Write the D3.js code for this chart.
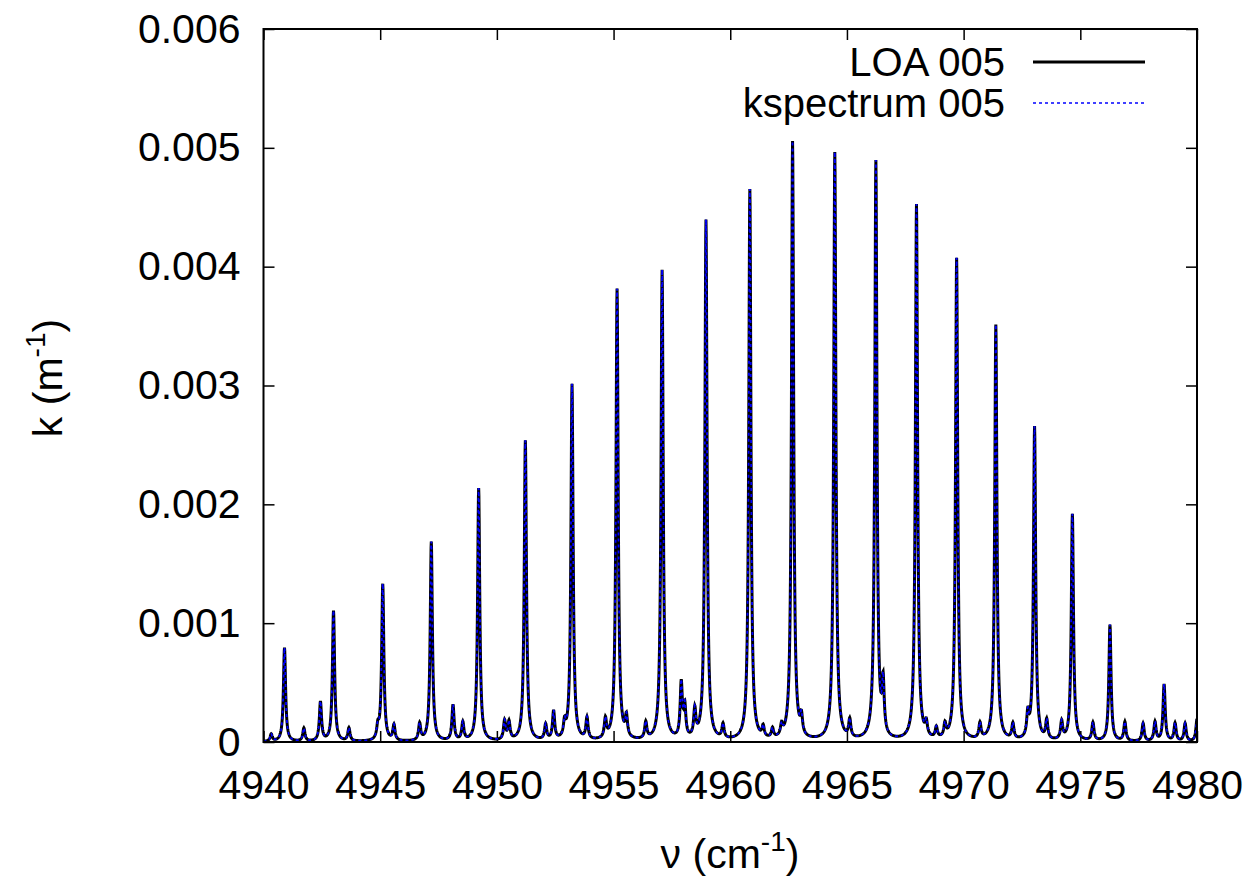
<!DOCTYPE html>
<html>
<head>
<meta charset="utf-8">
<script src="https://cdn.jsdelivr.net/npm/d3@7"></script>
<style>
  body { margin: 0; background: #fff; }
  text { font-family: "Liberation Sans", Arial, sans-serif; fill: #000; }
</style>
</head>
<body>
<svg id="chart" width="1255" height="877"></svg>
<script>
// strong lines of the band (cm-1) and their peak k (m-1)
var bandCenters = [4940.90, 4943.00, 4945.11, 4947.19, 4949.22, 4951.22, 4953.22, 4955.15, 4957.08, 4958.96,
  4960.84, 4962.67, 4964.48, 4966.24, 4967.98, 4969.70, 4971.38, 4973.04, 4974.66, 4976.27, 4978.59]
var bandPeaks = [0.00079, 0.00110, 0.00132, 0.00168, 0.00213, 0.00253, 0.00300, 0.00380, 0.00396, 0.00438,
  0.00464, 0.00504, 0.00495, 0.00487, 0.00451, 0.00406, 0.00350, 0.00264, 0.00191, 0.00098, 0.00048]

// weak lines in between
var weakCenters = [4940.33, 4941.73, 4942.44, 4943.66, 4944.90, 4945.59, 4946.69, 4948.12, 4948.54, 4950.33,
  4950.52, 4952.09, 4952.43, 4952.90, 4953.86, 4954.65, 4955.55, 4956.38, 4957.90, 4958.05,
  4958.48, 4959.69, 4961.41, 4961.81, 4962.20, 4963.05, 4965.12, 4966.55, 4968.40, 4968.83,
  4969.20, 4970.70, 4972.11, 4972.75, 4973.56, 4974.20, 4975.54, 4976.91, 4977.69, 4978.20,
  4979.06, 4979.49, 4980.00]
var weakPeaks = [0.00006, 0.00011, 0.00033, 0.00011, 0.00010, 0.00013, 0.00014, 0.00030, 0.00015, 0.00016,
  0.00015, 0.00013, 0.00024, 0.00012, 0.00018, 0.00016, 0.00017, 0.00014, 0.00046, 0.00026,
  0.00023, 0.00012, 0.00009, 0.00008, 0.00009, 0.00015, 0.00015, 0.00043, 0.00011, 0.00009,
  0.00011, 0.00013, 0.00013, 0.00019, 0.00016, 0.00015, 0.00015, 0.00016, 0.00015, 0.00016,
  0.00015, 0.00015, 0.00019]

var halfWidth = 0.055

var xTicks = [4940, 4945, 4950, 4955, 4960, 4965, 4970, 4975, 4980]
var yTicks = [0, 0.001, 0.002, 0.003, 0.004, 0.005, 0.006]
var seriesNames = ['LOA 005', 'kspectrum 005']

const margin = {left: 263.5, right: 1197, top: 29, bottom: 742}
const fontSize = 41

var svg = d3.select('#chart')

var x = d3.scaleLinear().domain([4940, 4980]).range([margin.left, margin.right])
var y = d3.scaleLinear().domain([0, 0.006]).range([margin.bottom, margin.top])

var centers = bandCenters.concat(weakCenters)
var peaks = bandPeaks.concat(weakPeaks)

var absorption = function (nu) {
  var s = 0
  centers.forEach((c, i) => {
    var u = (nu - c) / halfWidth
    s += peaks[i] / (1 + u * u)
  })
  return s
}

var grid = d3.range(4940, 4980.0001, 0.01).concat(centers.filter(c => c >= 4940 && c <= 4980))
grid.sort((a, b) => a - b)
var spectrum = grid.map(nu => [nu, absorption(nu)])

var line = d3.line()
  .x(d => x(d[0]))
  .y(d => y(d[1]))

svg.append('defs').append('clipPath').attr('id', 'clip')
  .append('rect')
  .attr('x', margin.left).attr('y', margin.top)
  .attr('width', margin.right - margin.left).attr('height', margin.bottom - margin.top)

// axes, ticks pointing inward on all four sides
var axisB = svg.append('g')
  .attr('transform', 'translate(0,' + margin.bottom + ')')
  .call(d3.axisBottom(x).tickValues(xTicks).tickSize(-11).tickPadding(28).tickFormat(d3.format('d')))
var axisT = svg.append('g')
  .attr('transform', 'translate(0,' + margin.top + ')')
  .call(d3.axisTop(x).tickValues(xTicks).tickSize(-11).tickFormat(''))
var axisL = svg.append('g')
  .attr('transform', 'translate(' + margin.left + ',0)')
  .call(d3.axisLeft(y).tickValues(yTicks).tickSize(-11).tickPadding(23)
    .tickFormat(d => d === 0 ? '0' : d3.format('.3f')(d)))
var axisR = svg.append('g')
  .attr('transform', 'translate(' + margin.right + ',0)')
  .call(d3.axisRight(y).tickValues(yTicks).tickSize(-11).tickFormat(''))

;[axisB, axisT, axisL, axisR].forEach(g => {
  g.select('.domain').remove()
  g.selectAll('.tick line').attr('stroke', '#000').attr('stroke-width', 1.5)
  g.selectAll('text').attr('font-size', fontSize).attr('font-family', '"Liberation Sans", Arial, sans-serif').attr('fill', '#000')
})

var plot = svg.append('g').attr('clip-path', 'url(#clip)')

plot.append('path')
  .datum(spectrum)
  .attr('d', line)
  .attr('fill', 'none')
  .attr('stroke', '#000')
  .attr('stroke-width', 3)

plot.append('path')
  .datum(spectrum)
  .attr('d', line)
  .attr('fill', 'none')
  .attr('stroke', '#0000ff')
  .attr('stroke-width', 1.8)
  .attr('stroke-dasharray', '3,3')

svg.append('rect')
  .attr('x', margin.left).attr('y', margin.top)
  .attr('width', margin.right - margin.left).attr('height', margin.bottom - margin.top)
  .attr('fill', 'none')
  .attr('stroke', '#000')
  .attr('stroke-width', 2)

// legend
var legend = svg.append('g').attr('id', 'legend')
var legendStyles = [
  {stroke: '#000', width: 3, dash: null},
  {stroke: '#0000ff', width: 1.5, dash: '3,3'}
]
seriesNames.forEach((name, i) => {
  var yy = 62 + i * 41
  legend.append('text')
    .attr('x', 1005).attr('y', yy + 14.3)
    .attr('text-anchor', 'end')
    .attr('font-size', 40)
    .text(name)
  legend.append('line')
    .attr('x1', 1033).attr('x2', 1145)
    .attr('y1', yy).attr('y2', yy)
    .attr('stroke', legendStyles[i].stroke)
    .attr('stroke-width', legendStyles[i].width)
    .attr('stroke-dasharray', legendStyles[i].dash)
})

// axis titles
var xTitle = svg.append('text')
  .attr('x', 730).attr('y', 868)
  .attr('text-anchor', 'middle')
  .attr('font-size', fontSize)
xTitle.append('tspan').text('ν (cm')
xTitle.append('tspan').attr('font-size', 28).attr('dy', -17).text('-1')
xTitle.append('tspan').attr('dy', 17).text(')')

var yTitle = svg.append('text')
  .attr('transform', 'translate(62,378) rotate(-90)')
  .attr('text-anchor', 'middle')
  .attr('font-size', fontSize)
yTitle.append('tspan').text('k (m')
yTitle.append('tspan').attr('font-size', 28).attr('dy', -17).text('-1')
yTitle.append('tspan').attr('dy', 17).text(')')
</script>
</body>
</html>
